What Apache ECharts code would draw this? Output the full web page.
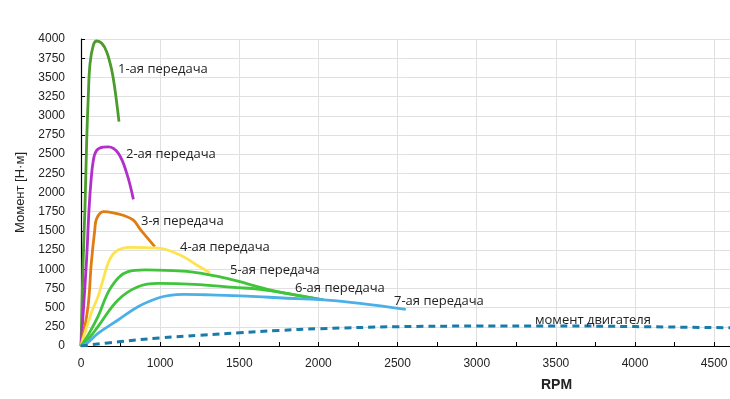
<!DOCTYPE html>
<html>
<head>
<meta charset="utf-8">
<script src="https://cdn.jsdelivr.net/npm/echarts@6/dist/echarts.min.js"></script>
<style>
  html, body { margin: 0; padding: 0; background: #fff; }
  #chart { width: 730px; height: 399px; }
</style>
</head>
<body>
<div id="chart"></div>
<script>
// x values are axis positions (axis steps of 500), labels come from xTickLabels
const xTickLabels = ["0", "1000", "1500", "2000", "2500", "3000", "3500", "4000", "4500"];

const gear1 = [[0, 0], [13, 1080], [25, 1800], [36, 2680], [46, 3250], [57, 3680], [78, 3920], [99, 3974], [131, 3944], [162, 3835], [194, 3596], [215, 3336], [240, 2923]];
const gear2 = [[0, 0], [34, 1080], [50, 1750], [62, 2120], [78, 2420], [99, 2550], [140, 2590], [173, 2595], [236, 2510], [289, 2250], [331, 1910]];
const gear3 = [[0, 0], [44, 510], [65, 1077], [87, 1510], [99, 1660], [141, 1750], [204, 1735], [270, 1700], [331, 1640], [371, 1530], [394, 1470], [466, 1294]];
const gear4 = [[0, 0], [65, 430], [107, 640], [139, 860], [171, 1077], [200, 1190], [234, 1251], [297, 1286], [487, 1275], [626, 1186], [731, 1055], [815, 955]];
const gear5 = [[0, 0], [50, 160], [107, 382], [192, 773], [297, 968], [402, 992], [583, 981], [718, 960], [921, 882], [1047, 812], [1173, 740], [1342, 668], [1530, 600]];
const gear6 = [[0, 0], [50, 100], [107, 252], [234, 600], [360, 773], [487, 816], [718, 803], [963, 764], [1131, 738], [1342, 670], [1530, 600]];
const gear7 = [[0, 0], [40, 40], [107, 165], [234, 339], [360, 512], [487, 625], [560, 660], [650, 672], [815, 666], [1047, 651], [1300, 622], [1553, 598], [1763, 556], [2052, 478]];
const engine = [[0, 0], [250, 58], [500, 105], [750, 140], [1000, 172], [1250, 202], [1500, 225], [2000, 252], [2500, 260], [3000, 261], [3500, 253], [4100, 237]];

const seriesNames = ["1-ая передача", "2-ая передача", "3-я передача", "4-ая передача", "5-ая передача", "6-ая передача", "7-ая передача", "момент двигателя"];
const seriesColors = ["#4b9b2d", "#b22fcb", "#e07c14", "#fde44f", "#3fc43b", "#3fc43b", "#4bb0e6", "#1b7ba8"];

const chart = echarts.init(document.getElementById("chart"), null, { renderer: "canvas" });

const lineData = [gear1, gear2, gear3, gear4, gear5, gear6, gear7];

const series = lineData.map((d, i) => ({
  name: seriesNames[i],
  type: "line",
  data: d,
  smooth: 0.4,
  showSymbol: false,
  lineStyle: { color: seriesColors[i], width: 2.8 },
  z: 3
}));
series.push({
  name: seriesNames[7],
  type: "line",
  data: engine,
  smooth: 0.4,
  showSymbol: false,
  lineStyle: { color: seriesColors[7], width: 3, type: [7, 5] },
  z: 3
});

// text labels next to the curves (pixel positions)
const labelSpots = [[118, 68], [126, 153], [141, 220], [180, 246], [230, 269], [295, 287], [394, 300], [535, 319]];
const labelFont = "13px 'Open Sans', sans-serif";

const option = {
  animation: false,
  grid: { left: 81, right: 0, top: 39, bottom: 53, outerBoundsMode: "none" },
  xAxis: {
    type: "value",
    min: 0,
    max: 4100,
    interval: 500,
    axisLine: { show: true, lineStyle: { color: "#000", width: 1.2 } },
    axisTick: { show: true, inside: true, length: 4, lineStyle: { color: "#000" } },
    minorTick: { show: true, splitNumber: 2, length: 4, lineStyle: { color: "#000" } },
    splitLine: { show: true, lineStyle: { color: "#e0e0e0", width: 1 } },
    axisLabel: {
      margin: 12,
      color: "#222",
      fontFamily: "'Liberation Sans', Arial, sans-serif",
      fontSize: 12,
      showMaxLabel: false,
      formatter: (v) => xTickLabels[v / 500] || ""
    }
  },
  yAxis: {
    type: "value",
    min: 0,
    max: 4000,
    interval: 250,
    name: "Момент [Н·м]",
    nameLocation: "middle",
    nameGap: 54,
    nameTextStyle: { color: "#222", fontFamily: "'Liberation Sans', Arial, sans-serif", fontSize: 13 },
    axisLine: { show: true, lineStyle: { color: "#000", width: 1.2 } },
    axisTick: { show: true, inside: true, length: 4, lineStyle: { color: "#000" } },
    splitLine: { show: true, lineStyle: { color: "#e0e0e0", width: 1 } },
    axisLabel: {
      margin: 16,
      color: "#222",
      fontFamily: "'Liberation Sans', Arial, sans-serif",
      fontSize: 12,
      formatter: (v) => String(v)
    }
  },
  series: series,
  graphic: labelSpots.map((p, i) => ({
    type: "text",
    left: p[0],
    top: p[1] - 5,
    style: { text: seriesNames[i], font: labelFont, fill: "#222" },
    z: 10
  })).concat([{
    type: "text",
    left: 541,
    top: 378,
    style: { text: "RPM", font: "bold 14px 'Liberation Sans', Arial, sans-serif", fill: "#222" }
  }])
};

chart.setOption(option);
</script>
</body>
</html>
